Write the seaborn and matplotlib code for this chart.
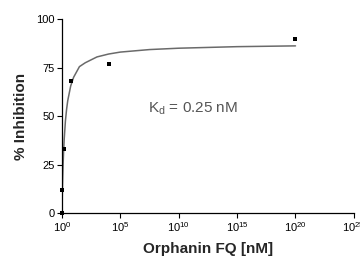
import matplotlib
matplotlib.use("Agg")
import matplotlib.pyplot as plt
import seaborn as sns
import pandas as pd

# measured points (x in axis units, labelled as powers of ten)
conc = [0.0, 0.04, 0.17, 0.75, 4.0, 20.0]
inhibition = [0.0, 12.0, 33.0, 68.0, 77.0, 89.5]

# fitted curve
curve_x = [0.0, 0.02, 0.05, 0.1, 0.15, 0.2, 0.3, 0.4, 0.5, 0.75, 1.0, 1.5, 2.0, 3.0, 4.0, 5.0, 7.5, 10.0, 15.0, 20.0]
curve_y = [0.0, 6.5, 14.5, 25.0, 32.5, 38.5, 47.5, 53.5, 58.0, 65.5, 70.0, 75.5, 77.5, 80.5, 82.0, 83.0, 84.3, 85.0, 85.8, 86.2]

xticks = [0, 5, 10, 15, 20, 25]
xtick_labels = ["$10^{0}$", "$10^{5}$", "$10^{10}$", "$10^{15}$", "$10^{20}$", "$10^{25}$"]
yticks = [0, 25, 50, 75, 100]

sns.set_theme(style="ticks")
plt.rcParams["font.family"] = ["Liberation Sans", "DejaVu Sans"]
plt.rcParams["mathtext.fontset"] = "custom"
plt.rcParams["mathtext.rm"] = "Liberation Sans"
plt.rcParams["mathtext.it"] = "Liberation Sans"

pts = pd.DataFrame({"x": conc, "y": inhibition})
fit = pd.DataFrame({"x": curve_x, "y": curve_y})

fig = plt.figure(figsize=(3.6, 2.62), dpi=100)
ax = fig.add_axes([0.172, 0.187, 0.811, 0.74])

sns.lineplot(data=fit, x="x", y="y", ax=ax, color="#6a6a6a", linewidth=1.1)
sns.scatterplot(data=pts, x="x", y="y", ax=ax, marker="s", color="black",
                s=11, linewidth=0, zorder=3, clip_on=False)

ax.set_xlim(0, 25)
ax.set_ylim(0, 100)
ax.set_xticks(xticks)
ax.set_xticklabels(xtick_labels)
ax.set_yticks(yticks)
ax.tick_params(labelsize=8, length=3.5, width=0.8, pad=1.5, colors="black")
sns.despine(ax=ax)
for s in ["left", "bottom"]:
    ax.spines[s].set_linewidth(0.9)
    ax.spines[s].set_color("black")

ax.set_xlabel("Orphanin FQ [nM]", fontsize=11, fontweight="bold", labelpad=6)
ax.set_ylabel("% Inhibition", fontsize=11, fontweight="bold", labelpad=6)

ax.text(7.4, 54, "K$_\\mathrm{d}$ = 0.25 nM", fontsize=11, color="#555555",
        va="center", ha="left")

fig.savefig("out.png", dpi=100)
